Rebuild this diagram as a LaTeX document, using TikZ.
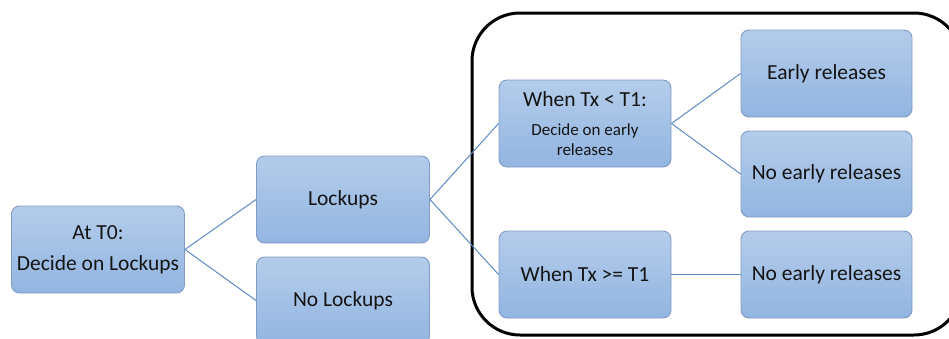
\documentclass[tikz,border=0pt]{standalone}
\usepackage{fontspec}
\setmainfont{Carlito}
\definecolor{boxtop}{RGB}{180,204,234}
\definecolor{boxbot}{RGB}{146,181,225}
\definecolor{boxline}{RGB}{128,156,196}
\definecolor{conn}{RGB}{95,138,196}
\definecolor{txt}{RGB}{20,20,20}
\newcommand{\smalltxt}{\fontsize{17}{20}\selectfont}
\begin{document}
\begin{tikzpicture}[x=1pt,y=-1pt,
  box/.style={draw=boxline, line width=0.9pt, rounded corners=8pt, top color=boxtop, bottom color=boxbot,
    minimum width=173pt, minimum height=87pt, align=center, text=txt, inner sep=2pt,
    font=\fontsize{21.5}{31}\selectfont},
  conn/.style={draw=conn, line width=1pt}]
\useasboundingbox (0,0) rectangle (949,338);
\clip (0,0) rectangle (949,338);
\fill[white] (0,0) rectangle (949,338);
\draw[line width=3pt, rounded corners=48pt] (472,13) rectangle (962,335);
\node[box] (a) at (98,249.5) {At T0:\\Decide on Lockups};
\node[box] (l) at (343,199.5) {Lockups};
\node[box] (nl) at (343,300.5) {No Lockups};
\node[box, minimum width=172pt] (w1) at (585,123.5) {When Tx < T1:\\[-2pt]{\smalltxt Decide on early}\\[-11pt]{\smalltxt releases}};
\node[box, minimum width=172pt] (w2) at (585,274.5) {When Tx >= T1};
\node[box, minimum width=171pt] (e1) at (826.5,73.5) {Early releases};
\node[box, minimum width=171pt, minimum height=86pt] (e2) at (826.5,174) {No early releases};
\node[box, minimum width=171pt] (e3) at (826.5,274.5) {No early releases};
\draw[conn] (a.east) -- (l.west);
\draw[conn] (a.east) -- (nl.west);
\draw[conn] (l.east) -- (w1.west);
\draw[conn] (l.east) -- (w2.west);
\draw[conn] (w1.east) -- (e1.west);
\draw[conn] (w1.east) -- (e2.west);
\draw[conn] (w2.east) -- (e3.west);
\end{tikzpicture}
\end{document}
